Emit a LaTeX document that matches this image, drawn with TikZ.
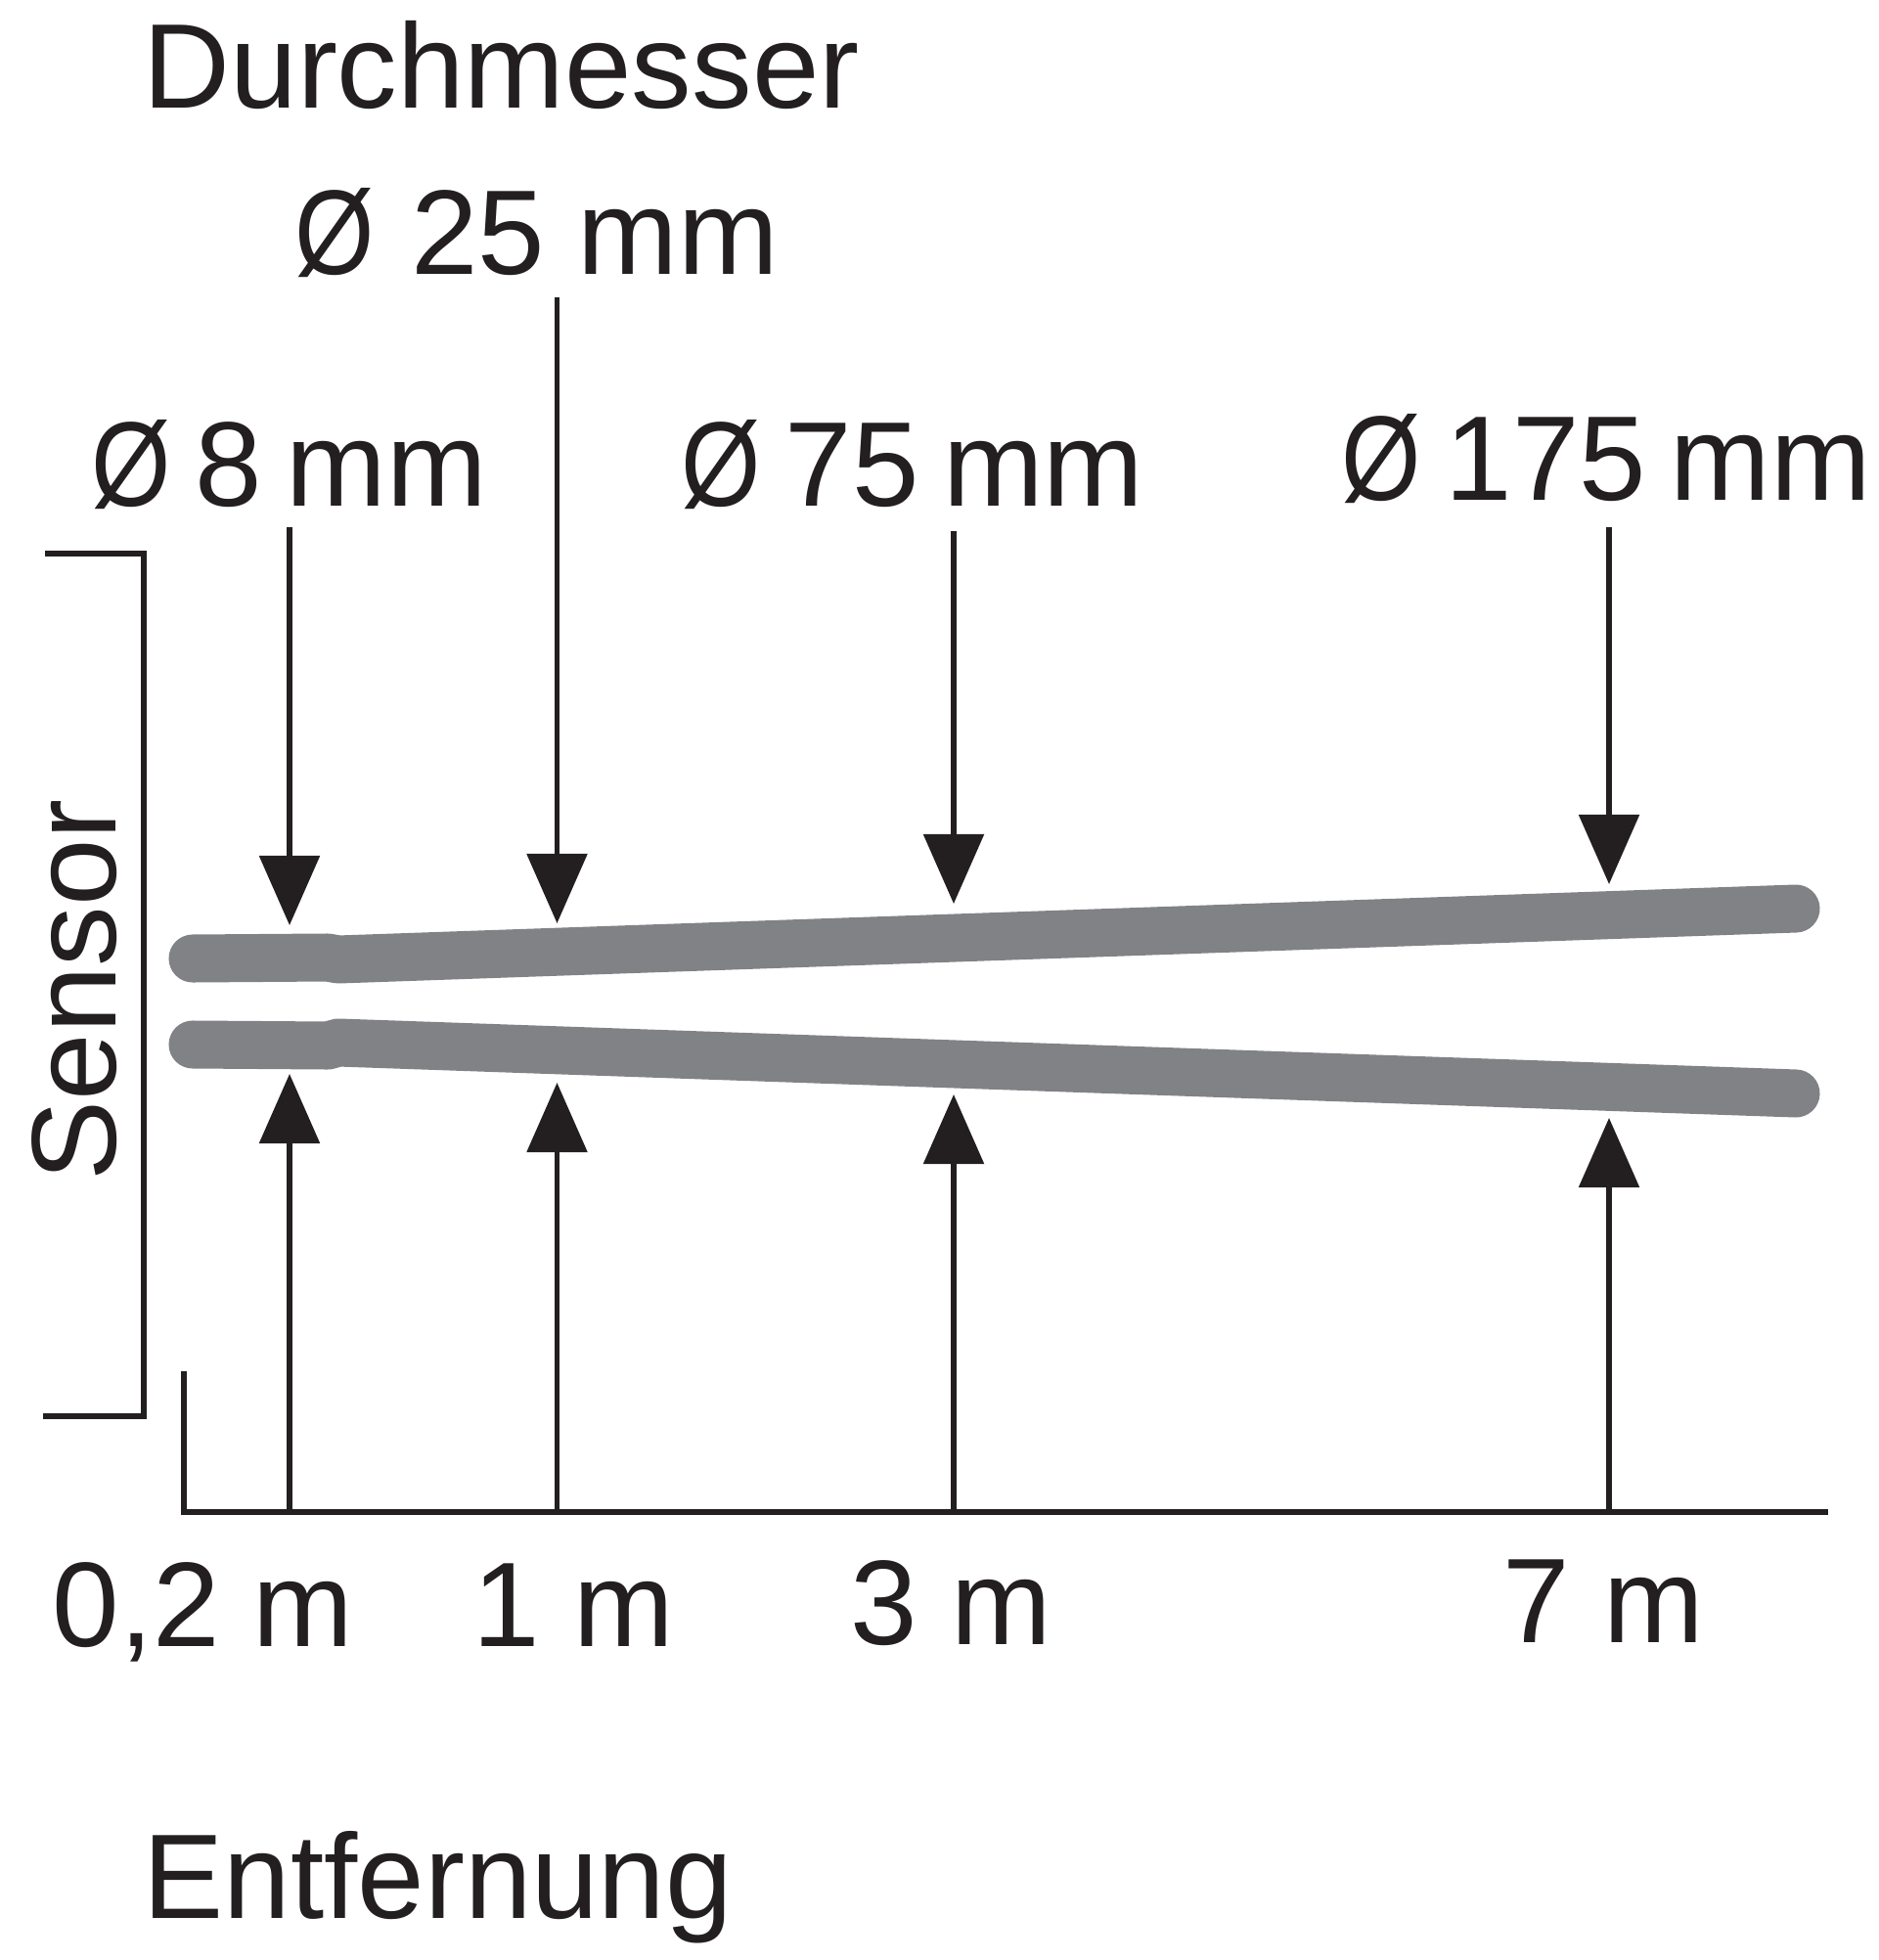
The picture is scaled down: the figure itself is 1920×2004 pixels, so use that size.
\documentclass[tikz,border=0pt]{standalone}
\usepackage{fontspec}
\setmainfont{Liberation Sans}
\usetikzlibrary{arrows.meta}
\definecolor{inkblack}{RGB}{35,31,32}
\definecolor{beamgray}{RGB}{128,130,133}
\newcommand{\diam}{\scalebox{.85}[1]{Ø}}
\newcommand{\dgap}{\hspace{.2em}}

\begin{document}
\begin{tikzpicture}[x=0.01cm, y=-0.01cm]
        \tikzstyle{txt} = [inner sep=0pt, anchor=base west, text=inkblack, font=\fontsize{35pt}{42pt}\selectfont]
        \tikzstyle{arrow} = [draw=inkblack, line width=0.055cm, -{Triangle[length=0.71cm, width=0.61cm]}]
        \tikzstyle{frame} = [draw=inkblack, line width=0.055cm]
        \tikzstyle{beam} = [draw=beamgray, line width=0.49cm, line cap=round, line join=round]

                \useasboundingbox (0,0) rectangle (1920,2004);

                % labels
                \node (title) [txt] at (146,111) {Durchmesser};
                \node (d25) [txt] at (301,281) {\diam\hspace{.3em}25 mm};
                \node (d8) [txt] at (93,518) {\diam\dgap 8\dgap mm};
                \node (d75) [txt] at (696,518) {\diam\dgap 75\dgap mm};
                \node (d175) [txt] at (1371,512) {\diam\dgap 175\dgap mm};
                \node (sensor) [txt, rotate=90] at (118,1208) {Sensor};
                \node (m02) [txt] at (53,1683) {0,2 m};
                \node (m1) [txt] at (483,1683) {1 m};
                \node (m3) [txt] at (869,1681) {3 m};
                \node (m7) [txt] at (1536,1679) {7 m};
                \node (dist) [txt] at (146,1961) {Entfernung};

                % beam
                \coordinate (ua) at (197,980);
                \coordinate (ub) at (335,979);
                \coordinate (uc) at (346,981);
                \coordinate (ud) at (1836,929);
                \coordinate (la) at (197,1068);
                \coordinate (lb) at (335,1069);
                \coordinate (lc) at (346,1066);
                \coordinate (ld) at (1836,1118);
                \draw[beam] (ua) -- (ub) -- (uc) -- (ud);
                \draw[beam] (la) -- (lb) -- (lc) -- (ld);

                % sensor bracket and axis
                \coordinate (s1) at (46,566);
                \coordinate (s2) at (147,566);
                \coordinate (s3) at (147,1448);
                \coordinate (s4) at (44,1448);
                \draw[frame] (s1) -- (s2) -- (s3) -- (s4);
                \coordinate (o1) at (188,1402);
                \coordinate (o2) at (188,1546);
                \coordinate (o3) at (1869,1546);
                \draw[frame] (o1) -- (o2) -- (o3);

                % arrows from above
                \coordinate (a8) at (296,539);
                \coordinate (t8) at (296,946);
                \coordinate (a25) at (569.5,304);
                \coordinate (t25) at (569.5,944);
                \coordinate (a75) at (975,543);
                \coordinate (t75) at (975,924);
                \coordinate (a175) at (1645,539);
                \coordinate (t175) at (1645,904);
                \draw[arrow] (a8) -- (t8);
                \draw[arrow] (a25) -- (t25);
                \draw[arrow] (a75) -- (t75);
                \draw[arrow] (a175) -- (t175);

                % arrows from the axis
                \coordinate (b8) at (296,1546);
                \coordinate (c8) at (296,1098);
                \coordinate (b25) at (569.5,1546);
                \coordinate (c25) at (569.5,1107);
                \coordinate (b75) at (975,1546);
                \coordinate (c75) at (975,1119);
                \coordinate (b175) at (1645,1546);
                \coordinate (c175) at (1645,1143);
                \draw[arrow] (b8) -- (c8);
                \draw[arrow] (b25) -- (c25);
                \draw[arrow] (b75) -- (c75);
                \draw[arrow] (b175) -- (c175);

    \end{tikzpicture}
\end{document}
